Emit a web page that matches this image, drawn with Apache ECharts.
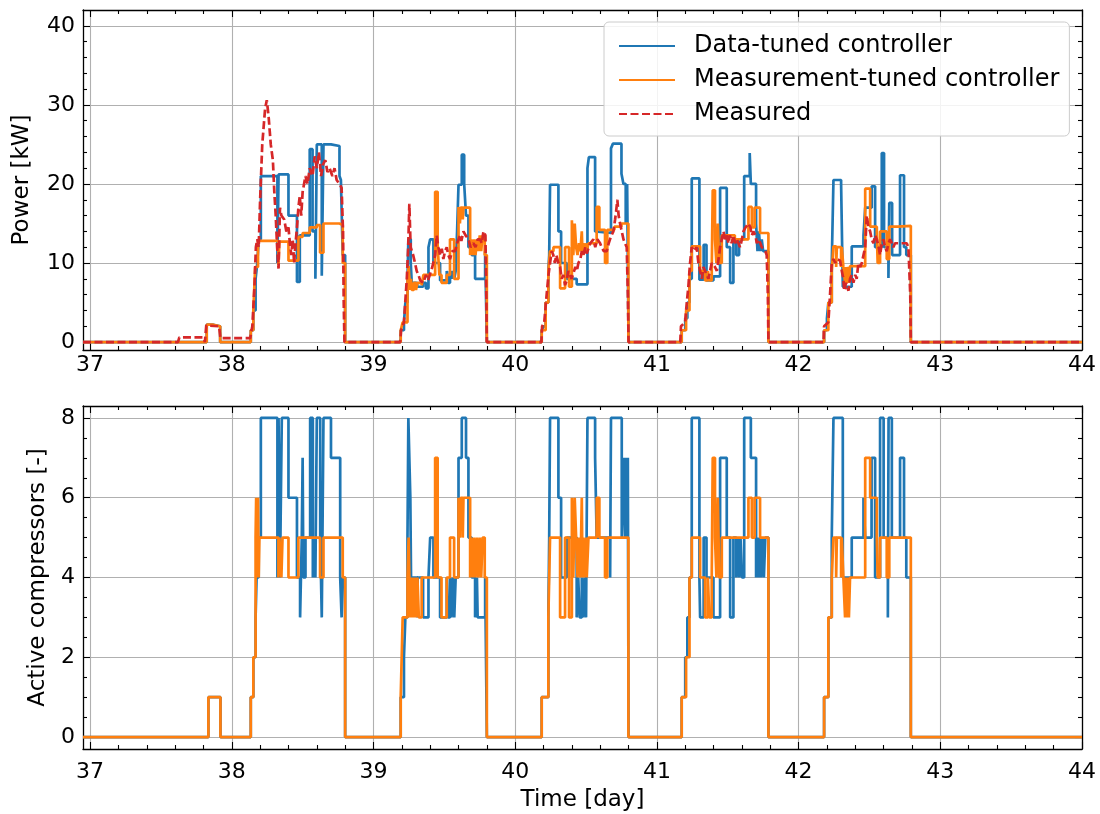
<!DOCTYPE html>
<html><head><meta charset="utf-8">
<script src="https://cdn.jsdelivr.net/npm/echarts@6/dist/echarts.min.js"></script>
<style>html,body{margin:0;padding:0;background:#fff}#c{width:1100px;height:814px}</style>
</head><body><div id="c"></div>
<script>
// ---------- data ----------
const xTicks = [37, 38, 39, 40, 41, 42, 43, 44];
const powerTicks = [0, 10, 20, 30, 40];
const compTicks = [0, 2, 4, 6, 8];
const seriesNames = ['Data-tuned controller', 'Measurement-tuned controller', 'Measured'];
const xLabel = 'Time [day]';
const powerLabel = 'Power [kW]';
const compLabel = 'Active compressors [-]';

// [day, kW], step holds value until next point
const dataTunedPower = [
 [36.95,0],[37.823,2.2],[37.87,2.0],[37.918,0],
 [38.134,1.5],[38.152,4],[38.168,8],[38.18,10],[38.19,13],[38.205,21],[38.322,10],[38.33,21.2],[38.4,16],[38.46,7.6],[38.48,13.5],[38.55,24.4],[38.57,14],[38.59,8],[38.6,25],[38.635,8.4],[38.647,25],[38.7,24.8],[38.76,21],[38.77,20.5],[38.783,11],[38.8,0],
 [39.192,1.5],[39.215,2.5],[39.225,5],[39.24,8],[39.246,13],[39.263,10],[39.27,7.5],[39.308,7],[39.35,7.5],[39.37,6.8],[39.388,12],[39.4,13],[39.423,10],[39.47,7.8],[39.517,9],[39.525,7.5],[39.54,9],[39.55,8],[39.56,9],[39.57,8],[39.58,9],[39.59,14],[39.6,19.9],[39.623,23.7],[39.64,20],[39.653,16],[39.67,12],[39.693,11],[39.717,8],[39.788,11.5],[39.8,0],
 [40.187,1.5],[40.2,2],[40.215,5],[40.234,9],[40.24,11],[40.246,19.9],[40.305,14],[40.324,10],[40.364,8],[40.434,7.3],[40.51,22],[40.52,23.4],[40.564,14],[40.575,13.8],[40.676,24.5],[40.69,25.1],[40.75,21.3],[40.764,20],[40.78,15],[40.79,20],[40.8,0],
 [41.175,1.5],[41.2,3],[41.215,5],[41.23,8],[41.246,20.7],[41.3,7.9],[41.33,12.3],[41.35,7.8],[41.399,8.3],[41.446,19.5],[41.493,12],[41.517,7.5],[41.54,13],[41.56,11],[41.58,13],[41.616,21],[41.655,23.9],[41.663,20],[41.7,15],[41.71,11.5],[41.72,14],[41.73,11.5],[41.74,13],[41.75,11.5],[41.787,0],
 [42.18,1.5],[42.2,3],[42.21,5],[42.234,10],[42.246,20.5],[42.3,20],[42.312,7],[42.375,12.1],[42.458,13.5],[42.47,17],[42.516,19.7],[42.54,12],[42.587,23.9],[42.603,12],[42.634,8.1],[42.64,17.6],[42.66,11],[42.716,21.1],[42.744,12],[42.76,11],[42.792,0],[44,0]
];
const measTunedPower = [
 [36.95,0],[37.823,2.2],[37.87,2.0],[37.918,0],
 [38.134,1.5],[38.152,4],[38.165,9.5],[38.185,12.8],[38.329,9.7],[38.336,12.7],[38.4,10.3],[38.47,13.3],[38.5,13.8],[38.55,14.5],[38.6,14.8],[38.623,11.3],[38.647,15],[38.76,14.8],[38.783,10],[38.8,0],
 [39.192,1.5],[39.206,2.5],[39.24,8],[39.248,9.6],[39.258,6.6],[39.265,8],[39.27,6.6],[39.285,7.5],[39.3,6.6],[39.31,7.5],[39.34,7.2],[39.352,8.5],[39.435,19],[39.453,12],[39.465,8.5],[39.48,7.5],[39.517,8.5],[39.54,13],[39.569,8],[39.6,17.1],[39.61,15],[39.615,17],[39.63,15.5],[39.635,17],[39.682,11],[39.69,13],[39.7,11],[39.71,13],[39.72,11],[39.73,13],[39.74,11.5],[39.75,13.5],[39.76,11.5],[39.77,13.5],[39.785,11],[39.8,0],
 [40.187,1.5],[40.215,5],[40.234,9],[40.246,11.5],[40.27,12],[40.317,6.8],[40.352,12],[40.38,7],[40.4,15.4],[40.41,11],[40.42,15],[40.43,12],[40.44,11],[40.45,12.5],[40.46,11.5],[40.47,14],[40.475,11],[40.48,12.5],[40.49,11.5],[40.5,12.5],[40.505,11.5],[40.517,12.5],[40.575,17.1],[40.594,14.2],[40.634,10],[40.65,14.2],[40.7,14.6],[40.75,15],[40.799,0],
 [41.175,1.5],[41.206,4],[41.23,9],[41.246,12.1],[41.305,9],[41.34,7.8],[41.36,9],[41.37,7.8],[41.387,9],[41.394,19.2],[41.41,13],[41.42,10],[41.43,15],[41.44,10],[41.458,13.5],[41.55,13],[41.646,17.1],[41.67,14.5],[41.69,17],[41.728,13.8],[41.787,0],
 [42.18,1.5],[42.21,5],[42.234,9],[42.246,12.1],[42.265,9.5],[42.27,12],[42.3,9.5],[42.305,12],[42.316,9.5],[42.328,7.5],[42.335,9.5],[42.34,7.5],[42.35,9.5],[42.355,7.5],[42.363,9.6],[42.47,19.4],[42.505,14.6],[42.552,13.8],[42.558,10],[42.575,14],[42.622,10.5],[42.64,14.6],[42.7,14.7],[42.792,0],[44,0]
];
const measuredPower = [
 [36.95,0],[37.62,0],[37.63,0.6],[37.8,0.6],[37.81,0],[37.82,2.1],[37.91,2],[37.92,0.5],[38.13,0.5],
 [38.145,2],[38.16,7],[38.17,12],[38.18,13],[38.19,12],[38.2,18],[38.215,25],[38.235,29.5],[38.247,30.6],[38.26,28.5],[38.275,25],[38.29,23],[38.3,19],[38.31,16],[38.32,12],[38.33,9.3],[38.34,17],[38.35,16],[38.37,15.5],[38.385,14],[38.4,14.5],[38.41,12.5],[38.42,11],[38.43,13],[38.44,10],[38.45,12.5],[38.46,14.5],[38.47,17],[38.48,18.5],[38.49,16],[38.5,19],[38.52,21],[38.535,20],[38.55,22],[38.57,21],[38.585,23.5],[38.6,22],[38.615,24],[38.63,21],[38.645,22.5],[38.66,23],[38.675,21.5],[38.69,22],[38.71,21],[38.725,22],[38.74,20.5],[38.76,20],[38.775,19.5],[38.785,14],[38.79,5],[38.795,0],
 [39.188,0],[39.195,1.5],[39.215,2.5],[39.235,8],[39.245,12],[39.253,17.5],[39.262,12],[39.27,12],[39.28,11],[39.293,10],[39.305,9],[39.317,8.5],[39.33,7.8],[39.352,7.5],[39.37,8.5],[39.385,7.8],[39.399,8],[39.415,9.5],[39.435,11],[39.446,13.5],[39.458,12],[39.47,11],[39.482,11.8],[39.493,10.5],[39.505,11.5],[39.517,12],[39.528,11],[39.54,10.5],[39.556,11.5],[39.576,11.5],[39.59,12.5],[39.611,13.5],[39.62,12.8],[39.635,14],[39.65,13.5],[39.67,13],[39.685,12],[39.705,12.5],[39.72,12],[39.735,13],[39.752,13],[39.765,12.5],[39.776,14],[39.79,13.5],[39.797,5],[39.8,0],
 [40.185,0],[40.19,2],[40.205,2.5],[40.222,6],[40.235,8.5],[40.246,10],[40.258,11.5],[40.269,11],[40.28,10],[40.29,11],[40.305,10],[40.317,9.5],[40.328,8],[40.34,8.5],[40.352,7.2],[40.364,7.8],[40.375,9],[40.387,9],[40.398,8],[40.41,8.2],[40.425,9.5],[40.435,9],[40.446,10],[40.46,10.5],[40.47,11.5],[40.481,11],[40.495,12],[40.505,11.2],[40.516,11.8],[40.53,12.5],[40.552,13],[40.565,12],[40.58,13],[40.599,12.5],[40.61,12],[40.625,11.5],[40.646,11.5],[40.66,12.5],[40.669,13],[40.68,13.5],[40.693,14],[40.705,15.5],[40.712,16.5],[40.721,18],[40.73,16],[40.74,15],[40.752,14],[40.764,13],[40.775,12.5],[40.787,12],[40.795,6],[40.8,0],
 [41.165,0],[41.17,2],[41.199,2.5],[41.211,5],[41.222,7],[41.234,10],[41.246,12],[41.26,11.5],[41.281,12],[41.293,10],[41.305,9],[41.317,8],[41.328,9.5],[41.34,9],[41.352,8.5],[41.364,8],[41.375,9],[41.387,10],[41.399,10],[41.41,9.5],[41.423,9],[41.435,10.5],[41.446,12],[41.458,13],[41.47,14],[41.48,13],[41.493,13.5],[41.505,12.5],[41.515,13.5],[41.528,12.5],[41.54,13.5],[41.552,12.5],[41.564,13],[41.575,12.8],[41.587,12],[41.6,13],[41.611,14],[41.625,14.5],[41.646,15],[41.66,14.5],[41.67,13.5],[41.681,14],[41.695,13.5],[41.705,12.5],[41.717,13],[41.73,12.5],[41.74,12],[41.752,12],[41.765,11.5],[41.775,11],[41.783,6],[41.787,0],
 [42.176,0],[42.18,2],[42.21,2.5],[42.222,6],[42.234,10],[42.246,10.5],[42.258,10],[42.27,10.5],[42.293,10.3],[42.305,9],[42.316,8],[42.322,6.5],[42.335,7.5],[42.345,6.8],[42.352,6.5],[42.363,8],[42.375,8.5],[42.387,7.5],[42.4,8.5],[42.41,8],[42.422,10],[42.435,9.5],[42.446,10],[42.458,10],[42.47,12],[42.481,16],[42.493,14.5],[42.505,14],[42.516,13],[42.528,12.5],[42.54,13.5],[42.552,13],[42.565,12],[42.575,11],[42.587,12.5],[42.599,13],[42.61,12],[42.622,11.5],[42.635,12.5],[42.646,13],[42.658,12.5],[42.669,12],[42.68,12.5],[42.693,12.5],[42.72,12.5],[42.74,12.5],[42.763,12.5],[42.775,12],[42.788,6],[42.792,0],[44,0]
];
// [day, active compressors], step holds value until next point
const dataTunedComp = [
 [36.95,0],[37.835,1],[37.92,0],
 [38.134,1],[38.152,2],[38.168,3],[38.175,4],[38.19,5],[38.205,8],[38.322,4],[38.33,8],[38.34,4],[38.353,8],[38.4,6],[38.46,4],[38.482,3],[38.494,5],[38.5,7],[38.505,4],[38.52,5],[38.553,8],[38.572,4],[38.58,5],[38.59,4],[38.6,8],[38.624,5],[38.635,3],[38.647,8],[38.7,7],[38.765,4],[38.775,3],[38.783,4],[38.8,0],
 [39.192,1],[39.215,2],[39.225,3],[39.24,5],[39.246,8],[39.26,6],[39.265,4],[39.308,3],[39.312,4],[39.35,3],[39.388,4],[39.4,5],[39.423,4],[39.47,3],[39.517,4],[39.525,3],[39.54,4],[39.55,3],[39.56,4],[39.57,3],[39.58,4],[39.6,7],[39.623,8],[39.653,7],[39.67,5],[39.693,4],[39.717,3],[39.73,4],[39.735,3],[39.788,4],[39.8,0],
 [40.187,1],[40.234,3],[40.24,5],[40.246,8],[40.305,6],[40.324,4],[40.364,5],[40.434,3],[40.445,4],[40.455,3],[40.47,4],[40.48,3],[40.49,4],[40.5,3],[40.51,8],[40.564,7],[40.575,5],[40.67,4],[40.676,8],[40.752,5],[40.764,7],[40.775,5],[40.78,7],[40.79,5],[40.795,7],[40.8,0],
 [41.175,1],[41.2,2],[41.215,3],[41.23,4],[41.246,8],[41.3,4],[41.305,3],[41.33,5],[41.35,4],[41.399,3],[41.446,7],[41.493,5],[41.517,3],[41.54,5],[41.56,4],[41.57,5],[41.58,4],[41.59,5],[41.6,4],[41.616,8],[41.663,7],[41.7,4],[41.705,5],[41.71,4],[41.715,5],[41.72,4],[41.728,5],[41.735,4],[41.745,5],[41.755,4],[41.765,5],[41.787,0],
 [42.18,1],[42.21,3],[42.234,5],[42.246,8],[42.312,4],[42.375,5],[42.458,6],[42.47,5],[42.515,7],[42.54,4],[42.575,8],[42.6,5],[42.63,3],[42.635,8],[42.658,5],[42.716,7],[42.744,5],[42.76,4],[42.792,0],[44,0]
];
const measTunedComp = [
 [36.95,0],[37.835,1],[37.92,0],
 [38.134,1],[38.152,2],[38.168,5],[38.172,6],[38.18,4],[38.185,6],[38.19,4],[38.195,5],[38.329,4],[38.336,5],[38.35,4],[38.358,5],[38.4,4],[38.47,5],[38.623,4],[38.647,5],[38.783,4],[38.8,0],
 [39.192,1],[39.206,3],[39.24,4],[39.248,5],[39.258,3],[39.265,4],[39.27,3],[39.278,4],[39.285,3],[39.295,4],[39.3,3],[39.31,4],[39.32,3],[39.34,4],[39.435,7],[39.453,4],[39.48,3],[39.517,4],[39.54,5],[39.569,4],[39.6,6],[39.61,5],[39.615,6],[39.63,5],[39.635,6],[39.682,4],[39.69,5],[39.7,4],[39.71,5],[39.72,4],[39.73,5],[39.74,4],[39.75,5],[39.76,4],[39.77,5],[39.785,4],[39.8,0],
 [40.187,1],[40.234,3],[40.246,5],[40.317,3],[40.352,5],[40.38,3],[40.4,6],[40.41,4],[40.42,6],[40.43,5],[40.44,4],[40.45,5],[40.46,4],[40.47,6],[40.475,4],[40.48,5],[40.49,4],[40.5,5],[40.505,4],[40.517,5],[40.575,6],[40.594,5],[40.634,4],[40.65,5],[40.799,0],
 [41.175,1],[41.206,2],[41.23,4],[41.246,5],[41.305,4],[41.34,3],[41.36,4],[41.37,3],[41.387,4],[41.394,7],[41.41,5],[41.42,4],[41.43,6],[41.44,4],[41.458,5],[41.646,6],[41.67,5],[41.69,6],[41.728,5],[41.787,0],
 [42.18,1],[42.21,3],[42.234,4],[42.246,5],[42.265,4],[42.27,5],[42.3,4],[42.305,5],[42.316,4],[42.328,3],[42.335,4],[42.34,3],[42.35,4],[42.355,3],[42.363,4],[42.47,7],[42.505,6],[42.552,5],[42.558,4],[42.575,5],[42.622,4],[42.64,5],[42.792,0],[44,0]
];

// ---------- layout / style ----------
const X_MIN = 36.95, X_MAX = 44;
const P_MIN = -1, P_MAX = 42;
const C_MIN = -0.3, C_MAX = 8.3;
const FONT = 'DejaVu Sans';
const TICK_FS = 22, NAME_FS = 23, LEG_FS = 24;
const LW = 2.7;
const C_BLUE = '#1f77b4', C_ORANGE = '#ff7f0e', C_RED = '#d62728';
const GRID_COLOR = '#b0b0b0';

function minorVals(major, sub) {
  const out = [];
  for (let i = 0; i < major.length - 1; i++) {
    const a = major[i], b = major[i + 1];
    for (let k = 1; k < sub; k++) out.push(+(a + (b - a) * k / sub).toFixed(4));
  }
  return out;
}
const xMinor = minorVals(xTicks, 5);
const pMinor = minorVals(powerTicks, 5);
const cMinor = minorVals(compTicks, 4);

function axis(grid, pos, min, max, split, vals, len, cfg) {
  cfg = cfg || {};
  return {
    type: 'value', gridIndex: grid, position: pos, min: min, max: max, splitNumber: split,
    axisLine: { show: !!cfg.line, onZero: false, lineStyle: { color: '#000', width: 1.3 } },
    axisTick: { show: true, inside: true, length: len, customValues: vals, lineStyle: { color: '#000', width: 1.1 } },
    axisLabel: cfg.labels ? {
      show: true, customValues: vals, margin: cfg.margin, fontSize: TICK_FS, fontFamily: FONT, color: '#000',
      formatter: v => String(Math.round(v))
    } : { show: false },
    splitLine: { show: !!cfg.split, lineStyle: { color: GRID_COLOR, width: 1.1 } },
    minorTick: { show: false }, minorSplitLine: { show: false },
    name: cfg.name || '', nameLocation: 'middle', nameGap: cfg.nameGap || 0,
    nameTextStyle: { fontSize: NAME_FS, fontFamily: FONT, color: '#000' }
  };
}

const xAxes = [
  axis(0, 'bottom', X_MIN, X_MAX, 7, xTicks, 7, { line: true, labels: true, margin: 4, split: true }),
  axis(0, 'bottom', X_MIN, X_MAX, 7, xMinor, 4, {}),
  axis(0, 'top', X_MIN, X_MAX, 7, xTicks, 7, { line: true }),
  axis(0, 'top', X_MIN, X_MAX, 7, xMinor, 4, {}),
  axis(1, 'bottom', X_MIN, X_MAX, 7, xTicks, 7, { line: true, labels: true, margin: 12, split: true, name: xLabel, nameGap: 40 }),
  axis(1, 'bottom', X_MIN, X_MAX, 7, xMinor, 4, {}),
  axis(1, 'top', X_MIN, X_MAX, 7, xTicks, 7, { line: true }),
  axis(1, 'top', X_MIN, X_MAX, 7, xMinor, 4, {})
];
const yAxes = [
  axis(0, 'left', P_MIN, P_MAX, 4, powerTicks, 7, { line: true, labels: true, margin: 8, split: true, name: powerLabel, nameGap: 49 }),
  axis(0, 'left', P_MIN, P_MAX, 4, pMinor, 4, {}),
  axis(0, 'right', P_MIN, P_MAX, 4, powerTicks, 7, { line: true }),
  axis(0, 'right', P_MIN, P_MAX, 4, pMinor, 4, {}),
  axis(1, 'left', C_MIN, C_MAX, 4, compTicks, 7, { line: true, labels: true, margin: 8, split: true, name: compLabel, nameGap: 33 }),
  axis(1, 'left', C_MIN, C_MAX, 4, cMinor, 4, {}),
  axis(1, 'right', C_MIN, C_MAX, 4, compTicks, 7, { line: true }),
  axis(1, 'right', C_MIN, C_MAX, 4, cMinor, 4, {})
];

function stepLine(name, data, color, xi, yi, z) {
  return {
    name: name, type: 'line', data: data, step: 'end', xAxisIndex: xi, yAxisIndex: yi,
    symbol: 'none', showSymbol: false, z: z,
    lineStyle: { color: color, width: LW }, itemStyle: { color: color }
  };
}

const option = {
  animation: false,
  backgroundColor: '#fff',
  textStyle: { fontFamily: FONT },
  grid: [
    { left: 83, right: 18, top: 10, height: 340 },
    { left: 83, right: 18, top: 406, height: 343 }
  ],
  xAxis: xAxes,
  yAxis: yAxes,
  legend: {
    data: seriesNames,
    orient: 'vertical', left: 604, top: 22,
    padding: [12, 10, 10, 14], itemGap: 10,
    itemWidth: 56, itemHeight: 14,
    itemStyle: { opacity: 0, color: 'rgba(0,0,0,0)', borderWidth: 0 },
    backgroundColor: 'rgba(255,255,255,0.85)', borderColor: '#cccccc', borderWidth: 1, borderRadius: 5,
    textStyle: { fontSize: LEG_FS, fontFamily: FONT, color: '#000', padding: [0, 0, 0, 14] }
  },
  series: [
    stepLine(seriesNames[0], dataTunedPower, C_BLUE, 0, 0, 2),
    stepLine(seriesNames[1], measTunedPower, C_ORANGE, 0, 0, 3),
    {
      name: seriesNames[2], type: 'line', data: measuredPower, xAxisIndex: 0, yAxisIndex: 0,
      symbol: 'none', showSymbol: false, z: 4,
      lineStyle: { color: C_RED, width: LW, type: [8, 3.5] }, itemStyle: { color: C_RED }
    },
    stepLine(seriesNames[0], dataTunedComp, C_BLUE, 4, 4, 2),
    stepLine(seriesNames[1], measTunedComp, C_ORANGE, 4, 4, 3)
  ]
};
const chart = echarts.init(document.getElementById('c'), null, { renderer: 'canvas' });
chart.setOption(option);
</script>
</body></html>
